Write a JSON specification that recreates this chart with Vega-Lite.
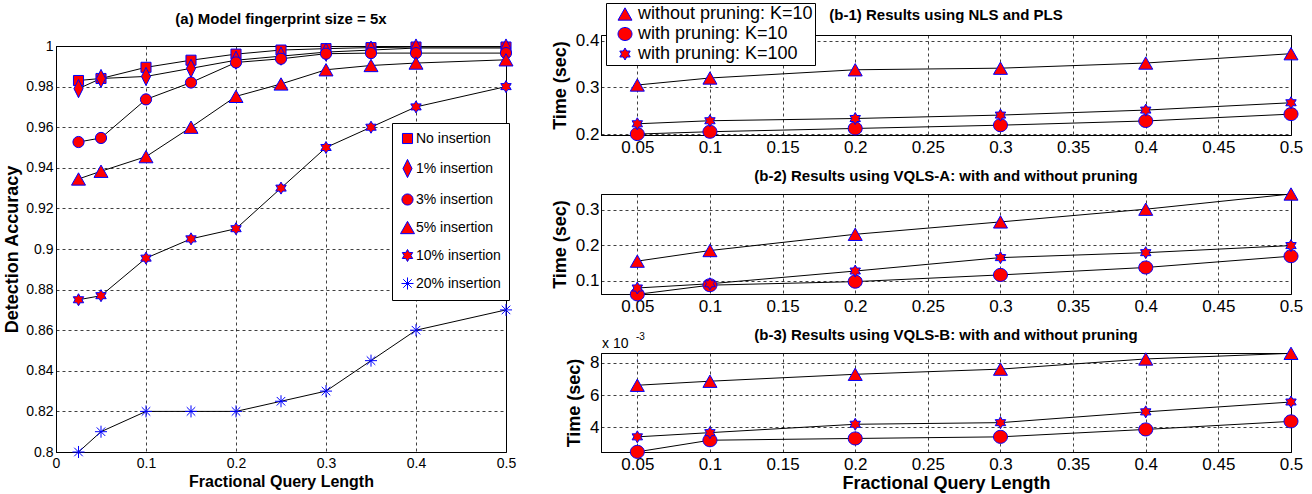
{
  "$schema": "https://vega.github.io/schema/vega-lite/v6.json",
  "background": "white",
  "padding": {"left": 3, "top": 2, "right": 0, "bottom": 0},
  "spacing": 33,
  "config": {
    "font": "Liberation Sans",
    "view": {"stroke": "black", "strokeWidth": 1},
    "axis": {
      "labelFont": "Liberation Sans", "titleFont": "Liberation Sans",
      "labelColor": "black", "titleColor": "black",
      "domainColor": "black", "domainWidth": 1,
      "ticks": false, "grid": true,
      "gridColor": "#000", "gridDash": [3, 3], "gridOpacity": 0.75, "gridWidth": 1,
      "labelPadding": 4, "titleFontWeight": "bold",
      "labelFlush": false, "labelOverlap": false
    },
    "title": {"font": "Liberation Sans", "fontWeight": "bold", "color": "black", "anchor": "middle", "frame": "group"},
    "legend": {"labelFont": "Liberation Sans", "labelColor": "black"}
  },
  "datasets": {
    "left": [
      {"s": "No insertion", "x": 0.025, "y": 0.983}, {"s": "No insertion", "x": 0.05, "y": 0.984}, {"s": "No insertion", "x": 0.1, "y": 0.9895}, {"s": "No insertion", "x": 0.15, "y": 0.993}, {"s": "No insertion", "x": 0.2, "y": 0.996}, {"s": "No insertion", "x": 0.25, "y": 0.998}, {"s": "No insertion", "x": 0.3, "y": 0.9987}, {"s": "No insertion", "x": 0.35, "y": 0.9992}, {"s": "No insertion", "x": 0.4, "y": 0.9995}, {"s": "No insertion", "x": 0.5, "y": 0.9995},
      {"s": "1% insertion", "x": 0.025, "y": 0.979}, {"s": "1% insertion", "x": 0.05, "y": 0.984}, {"s": "1% insertion", "x": 0.1, "y": 0.985}, {"s": "1% insertion", "x": 0.15, "y": 0.989}, {"s": "1% insertion", "x": 0.2, "y": 0.993}, {"s": "1% insertion", "x": 0.25, "y": 0.995}, {"s": "1% insertion", "x": 0.3, "y": 0.997}, {"s": "1% insertion", "x": 0.35, "y": 0.998}, {"s": "1% insertion", "x": 0.4, "y": 0.999}, {"s": "1% insertion", "x": 0.5, "y": 0.999},
      {"s": "3% insertion", "x": 0.025, "y": 0.9527}, {"s": "3% insertion", "x": 0.05, "y": 0.9547}, {"s": "3% insertion", "x": 0.1, "y": 0.9737}, {"s": "3% insertion", "x": 0.15, "y": 0.982}, {"s": "3% insertion", "x": 0.2, "y": 0.9919}, {"s": "3% insertion", "x": 0.25, "y": 0.9937}, {"s": "3% insertion", "x": 0.3, "y": 0.9962}, {"s": "3% insertion", "x": 0.35, "y": 0.9965}, {"s": "3% insertion", "x": 0.4, "y": 0.9965}, {"s": "3% insertion", "x": 0.5, "y": 0.9965},
      {"s": "5% insertion", "x": 0.025, "y": 0.9345}, {"s": "5% insertion", "x": 0.05, "y": 0.9383}, {"s": "5% insertion", "x": 0.1, "y": 0.9455}, {"s": "5% insertion", "x": 0.15, "y": 0.96}, {"s": "5% insertion", "x": 0.2, "y": 0.9752}, {"s": "5% insertion", "x": 0.25, "y": 0.9813}, {"s": "5% insertion", "x": 0.3, "y": 0.9883}, {"s": "5% insertion", "x": 0.35, "y": 0.9904}, {"s": "5% insertion", "x": 0.4, "y": 0.9916}, {"s": "5% insertion", "x": 0.5, "y": 0.9932},
      {"s": "10% insertion", "x": 0.025, "y": 0.875}, {"s": "10% insertion", "x": 0.05, "y": 0.877}, {"s": "10% insertion", "x": 0.1, "y": 0.8955}, {"s": "10% insertion", "x": 0.15, "y": 0.905}, {"s": "10% insertion", "x": 0.2, "y": 0.91}, {"s": "10% insertion", "x": 0.25, "y": 0.93}, {"s": "10% insertion", "x": 0.3, "y": 0.95}, {"s": "10% insertion", "x": 0.35, "y": 0.96}, {"s": "10% insertion", "x": 0.4, "y": 0.97}, {"s": "10% insertion", "x": 0.5, "y": 0.98},
      {"s": "20% insertion", "x": 0.025, "y": 0.8}, {"s": "20% insertion", "x": 0.05, "y": 0.81}, {"s": "20% insertion", "x": 0.1, "y": 0.82}, {"s": "20% insertion", "x": 0.15, "y": 0.82}, {"s": "20% insertion", "x": 0.2, "y": 0.82}, {"s": "20% insertion", "x": 0.25, "y": 0.825}, {"s": "20% insertion", "x": 0.3, "y": 0.83}, {"s": "20% insertion", "x": 0.35, "y": 0.845}, {"s": "20% insertion", "x": 0.4, "y": 0.86}, {"s": "20% insertion", "x": 0.5, "y": 0.87}
    ],
    "b1": [
      {"s": "without pruning: K=10", "x": 0.05, "y": 0.305}, {"s": "without pruning: K=10", "x": 0.1, "y": 0.32}, {"s": "without pruning: K=10", "x": 0.2, "y": 0.3376}, {"s": "without pruning: K=10", "x": 0.3, "y": 0.341}, {"s": "without pruning: K=10", "x": 0.4, "y": 0.352}, {"s": "without pruning: K=10", "x": 0.5, "y": 0.372},
      {"s": "with pruning: K=10", "x": 0.05, "y": 0.2}, {"s": "with pruning: K=10", "x": 0.1, "y": 0.205}, {"s": "with pruning: K=10", "x": 0.2, "y": 0.212}, {"s": "with pruning: K=10", "x": 0.3, "y": 0.219}, {"s": "with pruning: K=10", "x": 0.4, "y": 0.228}, {"s": "with pruning: K=10", "x": 0.5, "y": 0.2427},
      {"s": "with pruning: K=100", "x": 0.05, "y": 0.222}, {"s": "with pruning: K=100", "x": 0.1, "y": 0.2285}, {"s": "with pruning: K=100", "x": 0.2, "y": 0.2333}, {"s": "with pruning: K=100", "x": 0.3, "y": 0.2406}, {"s": "with pruning: K=100", "x": 0.4, "y": 0.2513}, {"s": "with pruning: K=100", "x": 0.5, "y": 0.267}
    ],
    "b2": [
      {"s": "without pruning: K=10", "x": 0.05, "y": 0.155}, {"s": "without pruning: K=10", "x": 0.1, "y": 0.185}, {"s": "without pruning: K=10", "x": 0.2, "y": 0.231}, {"s": "without pruning: K=10", "x": 0.3, "y": 0.266}, {"s": "without pruning: K=10", "x": 0.4, "y": 0.302}, {"s": "without pruning: K=10", "x": 0.5, "y": 0.345},
      {"s": "with pruning: K=10", "x": 0.05, "y": 0.061}, {"s": "with pruning: K=10", "x": 0.1, "y": 0.087}, {"s": "with pruning: K=10", "x": 0.2, "y": 0.097}, {"s": "with pruning: K=10", "x": 0.3, "y": 0.116}, {"s": "with pruning: K=10", "x": 0.4, "y": 0.137}, {"s": "with pruning: K=10", "x": 0.5, "y": 0.169},
      {"s": "with pruning: K=100", "x": 0.05, "y": 0.079}, {"s": "with pruning: K=100", "x": 0.1, "y": 0.091}, {"s": "with pruning: K=100", "x": 0.2, "y": 0.127}, {"s": "with pruning: K=100", "x": 0.3, "y": 0.165}, {"s": "with pruning: K=100", "x": 0.4, "y": 0.179}, {"s": "with pruning: K=100", "x": 0.5, "y": 0.199}
    ],
    "b3": [
      {"s": "without pruning: K=10", "x": 0.05, "y": 6.62}, {"s": "without pruning: K=10", "x": 0.1, "y": 6.87}, {"s": "without pruning: K=10", "x": 0.2, "y": 7.3}, {"s": "without pruning: K=10", "x": 0.3, "y": 7.62}, {"s": "without pruning: K=10", "x": 0.4, "y": 8.25}, {"s": "without pruning: K=10", "x": 0.5, "y": 8.6},
      {"s": "with pruning: K=10", "x": 0.05, "y": 2.49}, {"s": "with pruning: K=10", "x": 0.1, "y": 3.21}, {"s": "with pruning: K=10", "x": 0.2, "y": 3.32}, {"s": "with pruning: K=10", "x": 0.3, "y": 3.42}, {"s": "with pruning: K=10", "x": 0.4, "y": 3.88}, {"s": "with pruning: K=10", "x": 0.5, "y": 4.38},
      {"s": "with pruning: K=100", "x": 0.05, "y": 3.42}, {"s": "with pruning: K=100", "x": 0.1, "y": 3.68}, {"s": "with pruning: K=100", "x": 0.2, "y": 4.2}, {"s": "with pruning: K=100", "x": 0.3, "y": 4.3}, {"s": "with pruning: K=100", "x": 0.4, "y": 4.97}, {"s": "with pruning: K=100", "x": 0.5, "y": 5.58}
    ],
    "b3note": [{"x": 0.025, "y": 8.62, "a": "x 10", "b": "-3"}]
  },
  "resolve": {"scale": {"shape": "independent"}, "legend": {"shape": "independent"}},
  "hconcat": [
    {
      "bounds": "flush",
      "spacing": 0,
      "vconcat": [
        {"width": 450, "height": 11, "data": {"values": [{}]}, "mark": {"type": "text", "text": ""}, "view": {"stroke": null}},
        {
          "width": 450, "height": 406,
          "title": {"text": "(a) Model fingerprint size = 5x", "fontSize": 15, "offset": 10},
          "data": {"name": "left"},
          "encoding": {
            "x": {"field": "x", "type": "quantitative", "scale": {"domain": [0, 0.5], "nice": false, "zero": false},
                  "axis": {"values": [0, 0.1, 0.2, 0.3, 0.4, 0.5], "format": ".1~f", "title": "Fractional Query Length", "labelFontSize": 14, "titleFontSize": 16, "titlePadding": 3}},
            "y": {"field": "y", "type": "quantitative", "scale": {"domain": [0.8, 1], "nice": false, "zero": false},
                  "axis": {"values": [0.8, 0.82, 0.84, 0.86, 0.88, 0.9, 0.92, 0.94, 0.96, 0.98, 1], "format": ".2~f", "title": "Detection Accuracy", "labelFontSize": 14, "titleFontSize": 18, "titlePadding": 4, "labelPadding": 3}}
          },
          "layer": [
            {"mark": {"type": "line", "color": "black", "strokeWidth": 1}, "encoding": {"detail": {"field": "s"}}},
            {
              "mark": {"type": "point", "filled": true, "fill": "red", "stroke": "blue", "strokeWidth": 1, "size": 196, "opacity": 1, "fillOpacity": 1},
              "encoding": {
                "shape": {
                  "field": "s", "type": "nominal",
                  "scale": {
                    "domain": ["No insertion", "1% insertion", "3% insertion", "5% insertion", "10% insertion", "20% insertion"],
                    "range": [
                      "M-0.72,-0.72H0.72V0.72H-0.72Z",
                      "M0,-1.3L0.65,0L0,1.3L-0.65,0Z",
                      "M-0.8,0A0.8 0.8 0 1 0 0.8,0A0.8 0.8 0 1 0 -0.8,0Z",
                      "M0,-0.88L1,0.88L-1,0.88Z",
                      "M0,-0.86L0.248,-0.43L0.745,-0.43L0.497,0L0.745,0.43L0.248,0.43L0,0.86L-0.248,0.43L-0.745,0.43L-0.497,0L-0.745,-0.43L-0.248,-0.43Z",
                      "M0,-0.86V0.86M-0.86,0H0.86M-0.61,-0.61L0.61,0.61M-0.61,0.61L0.61,-0.61"
                    ]
                  },
                  "legend": {
                    "title": null, "orient": "none", "legendX": 336, "legendY": 88,
                    "strokeColor": "black", "fillColor": "white", "padding": 8,
                    "symbolSize": 196, "symbolStrokeWidth": 1,
                    "labelFontSize": 14, "labelOffset": 1, "rowPadding": 11, "labelLimit": 300
                  }
                }
              }
            }
          ]
        }
      ]
    },
    {
      "bounds": "flush",
      "spacing": 59,
      "vconcat": [
        {
          "width": 690, "height": 100,
          "title": {"text": "(b-1) Results using NLS and PLS", "fontSize": 15, "offset": 9},
          "data": {"name": "b1"},
          "encoding": {
            "x": {"field": "x", "type": "quantitative", "scale": {"domain": [0.025, 0.5], "nice": false, "zero": false},
                  "axis": {"values": [0.05, 0.1, 0.15, 0.2, 0.25, 0.3, 0.35, 0.4, 0.45, 0.5], "format": ".2~f", "title": null, "labelFontSize": 17}},
            "y": {"field": "y", "type": "quantitative", "scale": {"domain": [0.198, 0.412], "nice": false, "zero": false},
                  "axis": {"values": [0.2, 0.3, 0.4], "format": ".1~f", "title": "Time (sec)", "labelFontSize": 17, "titleFontSize": 18, "titlePadding": 6, "labelPadding": 2}}
          },
          "layer": [
            {"mark": {"type": "line", "color": "black", "strokeWidth": 1}, "encoding": {"detail": {"field": "s"}}},
            {
              "mark": {"type": "point", "filled": true, "fill": "red", "stroke": "blue", "strokeWidth": 1, "size": 196, "opacity": 1},
              "encoding": {
                "shape": {
                  "field": "s", "type": "nominal",
                  "scale": {
                    "domain": ["without pruning: K=10", "with pruning: K=10", "with pruning: K=100"],
                    "range": [
                      "M0,-0.88L1,0.88L-1,0.88Z",
                      "M-1,0A1 0.93 0 1 0 1,0A1 0.93 0 1 0 -1,0Z",
                      "M0,-0.86L0.248,-0.43L0.745,-0.43L0.497,0L0.745,0.43L0.248,0.43L0,0.86L-0.248,0.43L-0.745,0.43L-0.497,0L-0.745,-0.43L-0.248,-0.43Z"
                    ]
                  },
                  "legend": {
                    "title": null, "orient": "none", "legendX": 5, "legendY": -32,
                    "strokeColor": "black", "fillColor": "white", "padding": 2,
                    "symbolSize": 196, "symbolStrokeWidth": 1,
                    "symbolOffset": 8, "labelFontSize": 18, "labelOffset": 4, "rowPadding": 2, "labelLimit": 400
                  }
                }
              }
            }
          ]
        },
        {
          "width": 690, "height": 100,
          "title": {"text": "(b-2) Results using VQLS-A: with and without pruning", "fontSize": 15, "offset": 2},
          "data": {"name": "b2"},
          "encoding": {
            "x": {"field": "x", "type": "quantitative", "scale": {"domain": [0.025, 0.5], "nice": false, "zero": false},
                  "axis": {"values": [0.05, 0.1, 0.15, 0.2, 0.25, 0.3, 0.35, 0.4, 0.45, 0.5], "format": ".2~f", "title": null, "labelFontSize": 17}},
            "y": {"field": "y", "type": "quantitative", "scale": {"domain": [0.062, 0.345], "nice": false, "zero": false},
                  "axis": {"values": [0.1, 0.2, 0.3], "format": ".1~f", "title": "Time (sec)", "labelFontSize": 17, "titleFontSize": 18, "titlePadding": 6, "labelPadding": 2}}
          },
          "layer": [
            {"mark": {"type": "line", "color": "black", "strokeWidth": 1}, "encoding": {"detail": {"field": "s"}}},
            {
              "mark": {"type": "point", "filled": true, "fill": "red", "stroke": "blue", "strokeWidth": 1, "size": 196, "opacity": 1},
              "encoding": {
                "shape": {
                  "field": "s", "type": "nominal",
                  "scale": {
                    "domain": ["without pruning: K=10", "with pruning: K=10", "with pruning: K=100"],
                    "range": [
                      "M0,-0.88L1,0.88L-1,0.88Z",
                      "M-1,0A1 0.93 0 1 0 1,0A1 0.93 0 1 0 -1,0Z",
                      "M0,-0.86L0.248,-0.43L0.745,-0.43L0.497,0L0.745,0.43L0.248,0.43L0,0.86L-0.248,0.43L-0.745,0.43L-0.497,0L-0.745,-0.43L-0.248,-0.43Z"
                    ]
                  }
                }
              }
            }
          ]
        },
        {
          "width": 690, "height": 99,
          "title": {"text": "(b-3) Results using VQLS-B: with and without pruning", "fontSize": 15, "offset": -11},
          "encoding": {
            "x": {"field": "x", "type": "quantitative", "scale": {"domain": [0.025, 0.5], "nice": false, "zero": false},
                  "axis": {"values": [0.05, 0.1, 0.15, 0.2, 0.25, 0.3, 0.35, 0.4, 0.45, 0.5], "format": ".2~f", "title": "Fractional Query Length", "labelFontSize": 17, "titleFontSize": 18, "titlePadding": 2}},
            "y": {"field": "y", "type": "quantitative", "scale": {"domain": [2.48, 8.62], "nice": false, "zero": false},
                  "axis": {"values": [4, 6, 8], "format": "d", "title": "Time (sec)", "labelFontSize": 17, "titleFontSize": 18, "titlePadding": 6, "labelPadding": 2}}
          },
          "layer": [
            {"data": {"name": "b3"}, "mark": {"type": "line", "color": "black", "strokeWidth": 1}, "encoding": {"detail": {"field": "s"}}},
            {
              "data": {"name": "b3"},
              "mark": {"type": "point", "filled": true, "fill": "red", "stroke": "blue", "strokeWidth": 1, "size": 196, "opacity": 1},
              "encoding": {
                "shape": {
                  "field": "s", "type": "nominal",
                  "scale": {
                    "domain": ["without pruning: K=10", "with pruning: K=10", "with pruning: K=100"],
                    "range": [
                      "M0,-0.88L1,0.88L-1,0.88Z",
                      "M-1,0A1 0.93 0 1 0 1,0A1 0.93 0 1 0 -1,0Z",
                      "M0,-0.86L0.248,-0.43L0.745,-0.43L0.497,0L0.745,0.43L0.248,0.43L0,0.86L-0.248,0.43L-0.745,0.43L-0.497,0L-0.745,-0.43L-0.248,-0.43Z"
                    ]
                  }
                }
              }
            },
            {"data": {"name": "b3note"}, "mark": {"type": "text", "align": "left", "baseline": "alphabetic", "dx": 1, "dy": -5, "fontSize": 14, "color": "black"}, "encoding": {"text": {"field": "a"}}},
            {"data": {"name": "b3note"}, "mark": {"type": "text", "align": "left", "baseline": "alphabetic", "dx": 35, "dy": -13, "fontSize": 10, "color": "black"}, "encoding": {"text": {"field": "b"}}}
          ]
        }
      ]
    }
  ]
}
